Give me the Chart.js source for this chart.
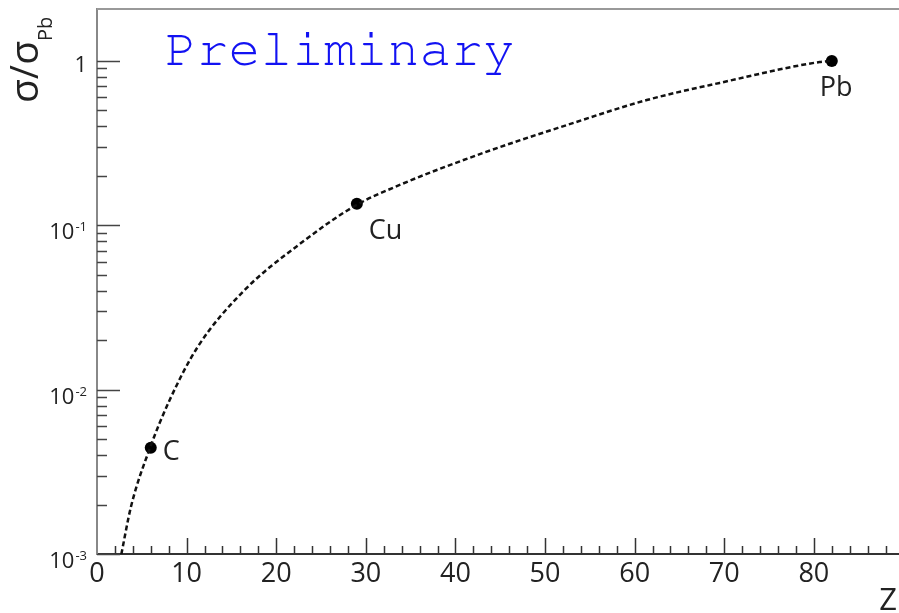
<!DOCTYPE html>
<html>
<head>
<meta charset="utf-8">
<script src="https://cdn.jsdelivr.net/npm/chart.js@4"></script>
<style>
  html, body { margin: 0; padding: 0; background: #fff; overflow: hidden; }
</style>
</head>
<body>
<canvas id="chart" width="899" height="613"></canvas>
<script>
// measured targets: cross section relative to lead
const targets = ['C', 'Cu', 'Pb'];
const targetZ = [6, 29, 82];
const targetRatio = [0.00443, 0.135, 1.0];

// fit curve, sampled along Z
const fitZ = [2.72, 3.79, 5.92, 8.11, 11.24, 16.48, 22.62, 28.76, 33.78, 43.05, 52.42, 61.35, 69.49, 80.65, 82];
const fitRatio = [0.001, 0.00194, 0.00443, 0.00865, 0.0182, 0.0404, 0.0769, 0.131, 0.176, 0.275, 0.407, 0.578, 0.735, 0.985, 1.0];

// axis ticks
const xTicks = [0, 10, 20, 30, 40, 50, 60, 70, 80];
const yTicks = [0.001, 0.01, 0.1, 1];
const yTickBase = ['10', '10', '10', '1'];
const yTickExp = ['-3', '-2', '-1', ''];

// label offsets next to each marker (dx, dy of text baseline)
const labelOffset = [[12, 12], [12, 35], [-12, 35]];

const FONT = '"Open Sans", "DejaVu Sans", sans-serif';
const MONO = '"Nimbus Mono PS", "Nimbus Mono L", "FreeMono", "Courier New", Courier, "Liberation Mono", monospace';

const decorations = {
  id: 'decorations',
  afterDraw(chart) {
    const ctx = chart.ctx;
    const area = chart.chartArea;
    const xs = chart.scales.x;
    const ys = chart.scales.y;
    ctx.save();

    // top frame line
    ctx.strokeStyle = '#999';
    ctx.lineWidth = 2;
    ctx.beginPath();
    ctx.moveTo(area.left, area.top);
    ctx.lineTo(area.right, area.top);
    ctx.stroke();

    // y ticks (inside the frame)
    ctx.strokeStyle = '#444';
    ctx.lineWidth = 1.5;
    ctx.beginPath();
    for (let d = -3; d < 0; d++) {
      for (let m = 1; m <= 9; m++) {
        const y = Math.round(ys.getPixelForValue(m * Math.pow(10, d))) + 0.5;
        ctx.moveTo(area.left, y);
        ctx.lineTo(area.left + (m === 1 ? 23 : 10), y);
      }
    }
    const y1 = Math.round(ys.getPixelForValue(1)) + 0.5;
    ctx.moveTo(area.left, y1);
    ctx.lineTo(area.left + 23, y1);
    ctx.stroke();

    // x ticks
    ctx.strokeStyle = '#333';
    ctx.beginPath();
    for (let z = 2; z <= 88; z += 2) {
      const x = Math.round(xs.getPixelForValue(z)) + 0.5;
      ctx.moveTo(x, area.bottom);
      ctx.lineTo(x, area.bottom - (z % 10 === 0 ? 16 : 8));
    }
    ctx.stroke();

    // y tick labels with exponents
    ctx.fillStyle = '#222';
    ctx.textBaseline = 'alphabetic';
    ctx.textAlign = 'left';
    const right = 87;
    yTicks.forEach((v, i) => {
      const y = ys.getPixelForValue(v);
      ctx.font = '13px ' + FONT;
      const ew = ctx.measureText(yTickExp[i]).width;
      ctx.font = '22px ' + FONT;
      const bw = ctx.measureText(yTickBase[i]).width;
      if (yTickExp[i]) {
        ctx.fillText(yTickBase[i], right - ew - bw - 1, y + 14);
        ctx.font = '13px ' + FONT;
        ctx.fillText(yTickExp[i], right - ew, y + 6);
      } else {
        ctx.fillText(yTickBase[i], right - bw, y + 11);
      }
    });

    // axis titles
    ctx.save();
    ctx.translate(38, 103);
    ctx.rotate(-Math.PI / 2);
    ctx.font = '39px ' + FONT;
    ctx.fillText('σ/σ', 0, 0);
    const tw = ctx.measureText('σ/σ').width;
    ctx.font = '20px ' + FONT;
    ctx.fillText('Pb', tw, 14);
    ctx.restore();

    ctx.font = '31px ' + FONT;
    ctx.textAlign = 'right';
    ctx.fillText('Z', 897, 610);

    // marker labels
    ctx.font = '27px ' + FONT;
    ctx.textAlign = 'left';
    const pts = chart.getDatasetMeta(1).data;
    targets.forEach((name, i) => {
      const p = pts[i];
      const [dx, dy] = labelOffset[i];
      ctx.fillText(name, p.x + dx, p.y + dy);
    });

    // watermark
    ctx.font = '53px ' + MONO;
    ctx.fillStyle = '#1212f2';
    ctx.fillText('Preliminary', 165, 65);

    ctx.restore();
  }
};

new Chart(document.getElementById('chart'), {
  type: 'line',
  data: {
    datasets: [
      {
        label: 'fit',
        data: fitZ.map((z, i) => ({ x: z, y: fitRatio[i] })),
        borderColor: '#111',
        borderWidth: 2.5,
        borderDash: [5, 3],
        cubicInterpolationMode: 'monotone',
        pointRadius: 0,
        fill: false
      },
      {
        label: 'data',
        data: targetZ.map((z, i) => ({ x: z, y: targetRatio[i] })),
        showLine: false,
        pointRadius: 6,
        pointBackgroundColor: '#000',
        pointBorderWidth: 0
      }
    ]
  },
  options: {
    responsive: false,
    animation: false,
    layout: { autoPadding: false, padding: { top: 9, right: 0, left: 0, bottom: 0 } },
    plugins: { legend: { display: false }, tooltip: { enabled: false } },
    scales: {
      x: {
        type: 'linear',
        min: 0,
        max: 89.5,
        afterBuildTicks: s => { s.ticks = xTicks.map(v => ({ value: v })); },
        afterFit: s => { s.height = 59; s.paddingLeft = 0; s.paddingRight = 0; },
        grid: { display: false, drawTicks: false },
        border: { color: '#333', width: 2 },
        ticks: { color: '#222', font: { family: FONT, size: 27 }, padding: 4 }
      },
      y: {
        type: 'logarithmic',
        min: 0.001,
        max: 2.07,
        afterFit: s => { s.width = 97; },
        grid: { display: false, drawTicks: false },
        border: { color: '#888', width: 2 },
        ticks: { display: false }
      }
    }
  },
  plugins: [decorations]
});
</script>
</body>
</html>
